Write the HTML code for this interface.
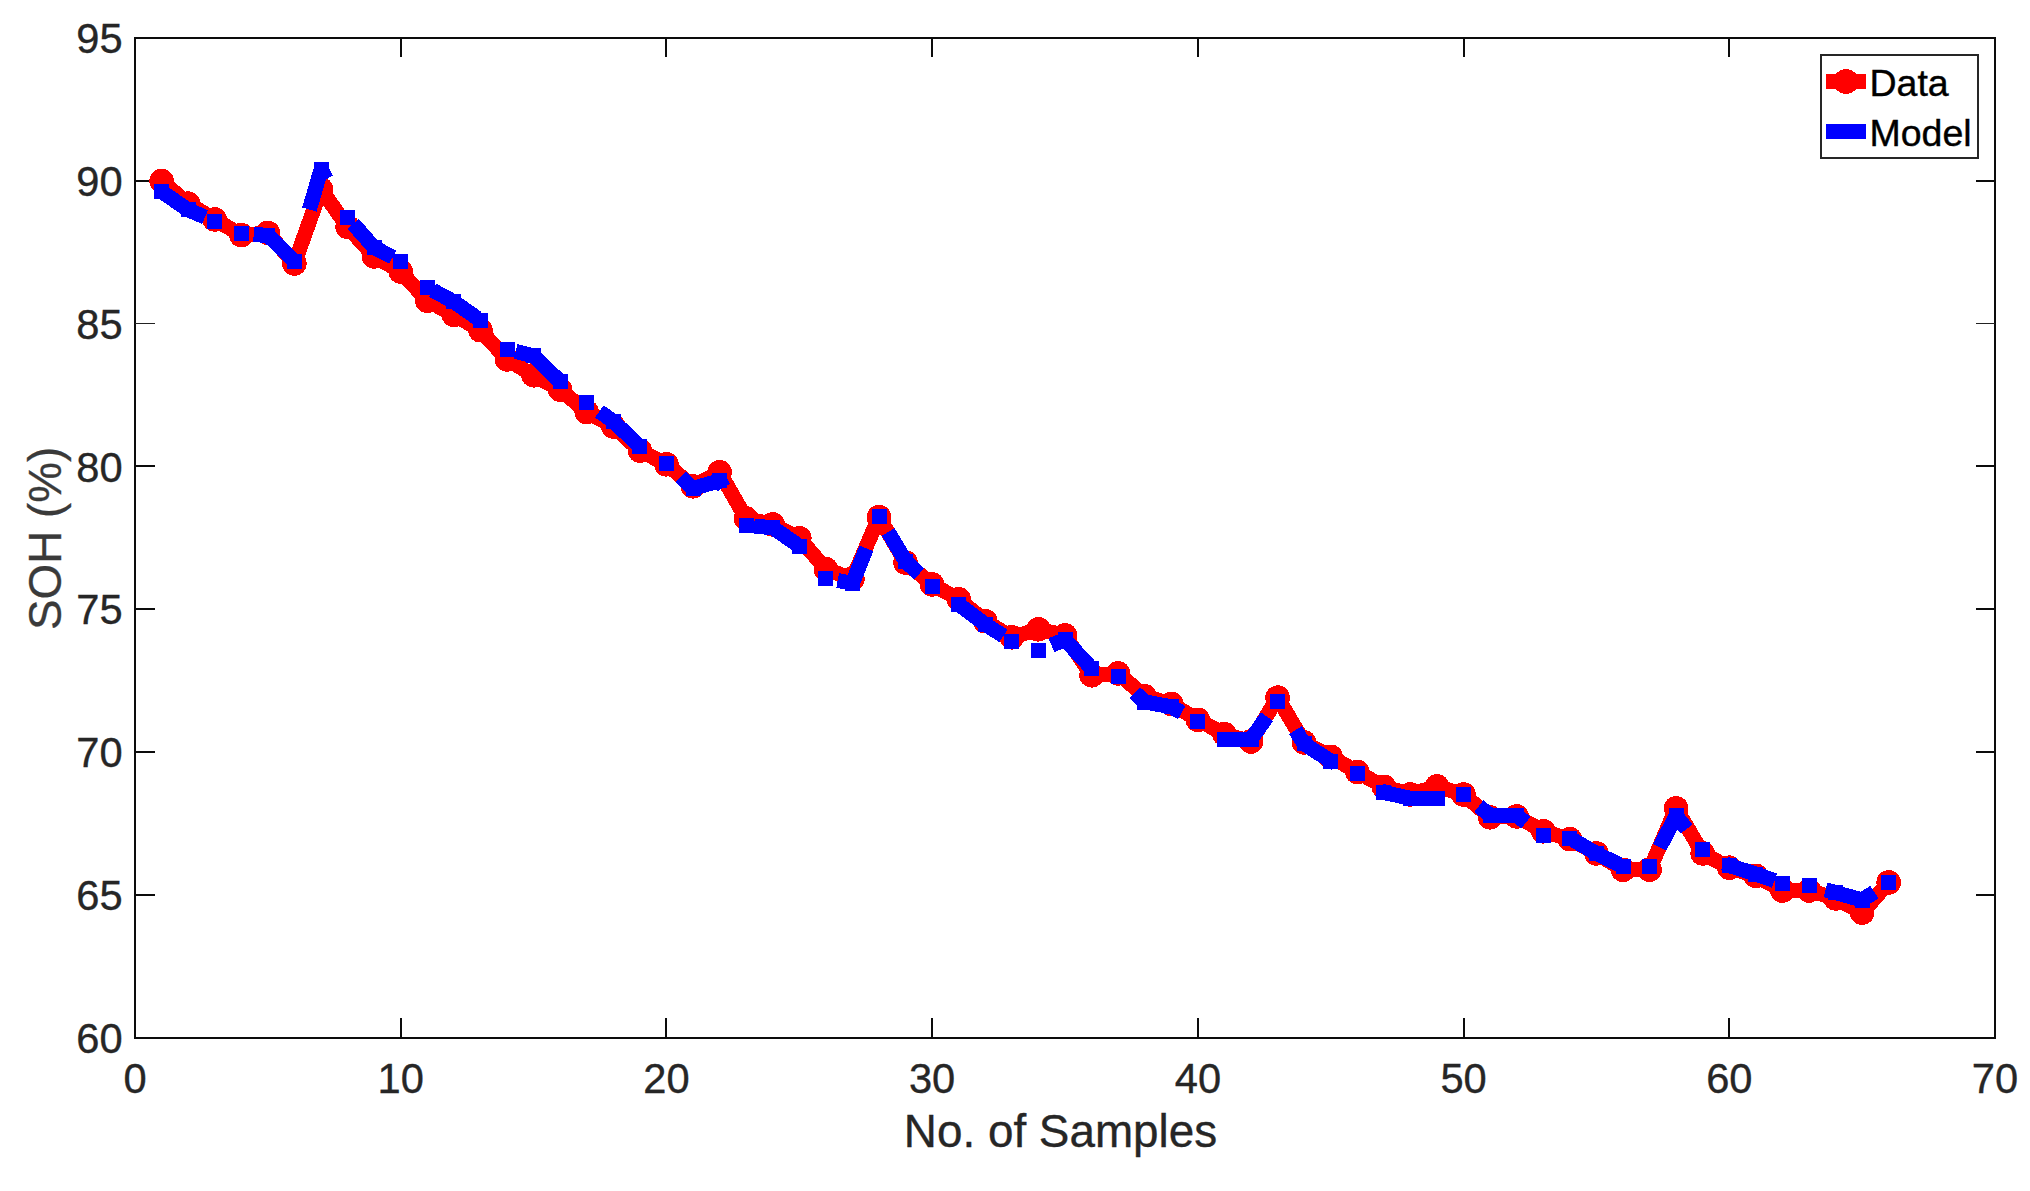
<!DOCTYPE html>
<html lang="en"><head><meta charset="utf-8"><title>SOH vs No. of Samples</title>
<style>html,body{margin:0;padding:0;background:#fff}body{width:2030px;height:1191px;overflow:hidden}svg{display:block}text{font-family:"Liberation Sans",Arial,Helvetica,sans-serif}</style></head><body>
<svg width="2030" height="1191" viewBox="0 0 2030 1191">
<rect width="2030" height="1191" fill="#fff"/>
<g shape-rendering="crispEdges">
<rect x="135.0" y="38.0" width="1860.0" height="1000.0" fill="none" stroke="#0c0c0c" stroke-width="2"/>
<rect x="400" y="1018" width="2" height="20" fill="#0c0c0c"/><rect x="400" y="38" width="2" height="19" fill="#0c0c0c"/>
<rect x="665" y="1018" width="2" height="20" fill="#0c0c0c"/><rect x="665" y="38" width="2" height="19" fill="#0c0c0c"/>
<rect x="931" y="1018" width="2" height="20" fill="#0c0c0c"/><rect x="931" y="38" width="2" height="19" fill="#0c0c0c"/>
<rect x="1197" y="1018" width="2" height="20" fill="#0c0c0c"/><rect x="1197" y="38" width="2" height="19" fill="#0c0c0c"/>
<rect x="1463" y="1018" width="2" height="20" fill="#0c0c0c"/><rect x="1463" y="38" width="2" height="19" fill="#0c0c0c"/>
<rect x="1728" y="1018" width="2" height="20" fill="#0c0c0c"/><rect x="1728" y="38" width="2" height="19" fill="#0c0c0c"/>
<rect x="135" y="180" width="20" height="2" fill="#0c0c0c"/><rect x="1976" y="180" width="19" height="2" fill="#0c0c0c"/>
<rect x="135" y="323" width="20" height="1" fill="#222"/><rect x="1976" y="323" width="19" height="1" fill="#222"/>
<rect x="135" y="465" width="20" height="2" fill="#0c0c0c"/><rect x="1976" y="465" width="19" height="2" fill="#0c0c0c"/>
<rect x="135" y="608" width="20" height="2" fill="#0c0c0c"/><rect x="1976" y="608" width="19" height="2" fill="#0c0c0c"/>
<rect x="135" y="751" width="20" height="2" fill="#0c0c0c"/><rect x="1976" y="751" width="19" height="2" fill="#0c0c0c"/>
<rect x="135" y="894" width="20" height="2" fill="#0c0c0c"/><rect x="1976" y="894" width="19" height="2" fill="#0c0c0c"/>
</g>
<g shape-rendering="crispEdges">
<polyline points="161.6,181.1 188.1,203.6 214.7,219.4 241.3,235.1 267.9,233.0 294.4,263.5 321.0,189.3 347.6,226.9 374.1,256.4 400.7,271.5 427.3,300.7 453.9,314.8 480.4,330.2 507.0,359.4 533.6,375.3 560.1,389.6 586.7,412.0 613.3,426.4 639.9,450.6 666.4,464.3 693.0,486.3 719.6,472.2 746.1,518.5 772.7,524.4 799.3,538.3 825.9,569.2 852.4,578.7 879.0,517.2 905.6,562.6 932.1,584.4 958.7,599.2 985.3,621.2 1011.9,637.3 1038.4,629.3 1065.0,635.3 1091.6,675.3 1118.1,673.4 1144.7,696.3 1171.3,703.9 1197.9,719.8 1224.4,734.1 1251.0,741.5 1277.6,697.6 1304.1,742.4 1330.7,756.8 1357.3,772.0 1383.9,786.8 1410.4,794.4 1437.0,786.3 1463.6,794.5 1490.1,817.3 1516.7,816.4 1543.3,831.3 1569.9,839.2 1596.4,853.4 1623.0,869.8 1649.6,869.7 1676.1,808.3 1702.7,853.4 1729.3,867.7 1755.9,875.9 1782.4,890.6 1809.0,890.5 1835.6,898.4 1862.1,912.7 1888.7,882.4" fill="none" stroke="#f00" stroke-width="15.0" stroke-linejoin="round" stroke-linecap="butt"/>
<g fill="#f00"><circle cx="161.6" cy="181.1" r="12.3"/><circle cx="188.1" cy="203.6" r="12.3"/><circle cx="214.7" cy="219.4" r="12.3"/><circle cx="241.3" cy="235.1" r="12.3"/><circle cx="267.9" cy="233.0" r="12.3"/><circle cx="294.4" cy="263.5" r="12.3"/><circle cx="321.0" cy="189.3" r="12.3"/><circle cx="347.6" cy="226.9" r="12.3"/><circle cx="374.1" cy="256.4" r="12.3"/><circle cx="400.7" cy="271.5" r="12.3"/><circle cx="427.3" cy="300.7" r="12.3"/><circle cx="453.9" cy="314.8" r="12.3"/><circle cx="480.4" cy="330.2" r="12.3"/><circle cx="507.0" cy="359.4" r="12.3"/><circle cx="533.6" cy="375.3" r="12.3"/><circle cx="560.1" cy="389.6" r="12.3"/><circle cx="586.7" cy="412.0" r="12.3"/><circle cx="613.3" cy="426.4" r="12.3"/><circle cx="639.9" cy="450.6" r="12.3"/><circle cx="666.4" cy="464.3" r="12.3"/><circle cx="693.0" cy="486.3" r="12.3"/><circle cx="719.6" cy="472.2" r="12.3"/><circle cx="746.1" cy="518.5" r="12.3"/><circle cx="772.7" cy="524.4" r="12.3"/><circle cx="799.3" cy="538.3" r="12.3"/><circle cx="825.9" cy="569.2" r="12.3"/><circle cx="852.4" cy="578.7" r="12.3"/><circle cx="879.0" cy="517.2" r="12.3"/><circle cx="905.6" cy="562.6" r="12.3"/><circle cx="932.1" cy="584.4" r="12.3"/><circle cx="958.7" cy="599.2" r="12.3"/><circle cx="985.3" cy="621.2" r="12.3"/><circle cx="1011.9" cy="637.3" r="12.3"/><circle cx="1038.4" cy="629.3" r="12.3"/><circle cx="1065.0" cy="635.3" r="12.3"/><circle cx="1091.6" cy="675.3" r="12.3"/><circle cx="1118.1" cy="673.4" r="12.3"/><circle cx="1144.7" cy="696.3" r="12.3"/><circle cx="1171.3" cy="703.9" r="12.3"/><circle cx="1197.9" cy="719.8" r="12.3"/><circle cx="1224.4" cy="734.1" r="12.3"/><circle cx="1251.0" cy="741.5" r="12.3"/><circle cx="1277.6" cy="697.6" r="12.3"/><circle cx="1304.1" cy="742.4" r="12.3"/><circle cx="1330.7" cy="756.8" r="12.3"/><circle cx="1357.3" cy="772.0" r="12.3"/><circle cx="1383.9" cy="786.8" r="12.3"/><circle cx="1410.4" cy="794.4" r="12.3"/><circle cx="1437.0" cy="786.3" r="12.3"/><circle cx="1463.6" cy="794.5" r="12.3"/><circle cx="1490.1" cy="817.3" r="12.3"/><circle cx="1516.7" cy="816.4" r="12.3"/><circle cx="1543.3" cy="831.3" r="12.3"/><circle cx="1569.9" cy="839.2" r="12.3"/><circle cx="1596.4" cy="853.4" r="12.3"/><circle cx="1623.0" cy="869.8" r="12.3"/><circle cx="1649.6" cy="869.7" r="12.3"/><circle cx="1676.1" cy="808.3" r="12.3"/><circle cx="1702.7" cy="853.4" r="12.3"/><circle cx="1729.3" cy="867.7" r="12.3"/><circle cx="1755.9" cy="875.9" r="12.3"/><circle cx="1782.4" cy="890.6" r="12.3"/><circle cx="1809.0" cy="890.5" r="12.3"/><circle cx="1835.6" cy="898.4" r="12.3"/><circle cx="1862.1" cy="912.7" r="12.3"/><circle cx="1888.7" cy="882.4" r="12.3"/></g>
<polyline points="161.6,191.6 188.1,209.9 214.7,221.2 241.3,233.3 267.9,235.4 294.4,261.1 321.0,169.6 347.6,217.6 374.1,247.5 400.7,261.4 427.3,287.4 453.9,301.7 480.4,320.4 507.0,349.3 533.6,355.8 560.1,381.5 586.7,402.4 613.3,421.3 639.9,446.5 666.4,463.4 693.0,488.4 719.6,480.7 746.1,525.6 772.7,527.6 799.3,546.1 825.9,578.4 852.4,583.2 879.0,516.5 905.6,561.3 932.1,586.3 958.7,604.5 985.3,624.3 1011.9,641.4 1038.4,650.5 1065.0,639.7 1091.6,668.4 1118.1,676.4 1144.7,702.0 1171.3,706.8 1197.9,721.6 1224.4,739.4 1251.0,739.4 1277.6,701.5 1304.1,743.9 1330.7,761.0 1357.3,773.5 1383.9,792.5 1410.4,798.3 1437.0,798.4 1463.6,794.7 1490.1,815.0 1516.7,815.5 1543.3,835.7 1569.9,838.0 1596.4,853.5 1623.0,866.4 1649.6,866.5 1676.1,815.7 1702.7,849.5 1729.3,865.6 1755.9,874.0 1782.4,883.5 1809.0,885.4 1835.6,892.5 1862.1,900.0 1888.7,882.7" fill="none" stroke="#00f" stroke-width="15.0" stroke-linejoin="round" stroke-linecap="butt" stroke-dasharray="52.6 52.2" stroke-dashoffset="2.0"/>
<g fill="#00f"><rect x="154.1" y="184.1" width="15.0" height="15.0"/><rect x="180.6" y="202.4" width="15.0" height="15.0"/><rect x="207.2" y="213.7" width="15.0" height="15.0"/><rect x="233.8" y="225.8" width="15.0" height="15.0"/><rect x="260.4" y="227.9" width="15.0" height="15.0"/><rect x="286.9" y="253.6" width="15.0" height="15.0"/><rect x="313.5" y="162.1" width="15.0" height="15.0"/><rect x="340.1" y="210.1" width="15.0" height="15.0"/><rect x="366.6" y="240.0" width="15.0" height="15.0"/><rect x="393.2" y="253.9" width="15.0" height="15.0"/><rect x="419.8" y="279.9" width="15.0" height="15.0"/><rect x="446.4" y="294.2" width="15.0" height="15.0"/><rect x="472.9" y="312.9" width="15.0" height="15.0"/><rect x="499.5" y="341.8" width="15.0" height="15.0"/><rect x="526.1" y="348.3" width="15.0" height="15.0"/><rect x="552.6" y="374.0" width="15.0" height="15.0"/><rect x="579.2" y="394.9" width="15.0" height="15.0"/><rect x="605.8" y="413.8" width="15.0" height="15.0"/><rect x="632.4" y="439.0" width="15.0" height="15.0"/><rect x="658.9" y="455.9" width="15.0" height="15.0"/><rect x="685.5" y="480.9" width="15.0" height="15.0"/><rect x="712.1" y="473.2" width="15.0" height="15.0"/><rect x="738.6" y="518.1" width="15.0" height="15.0"/><rect x="765.2" y="520.1" width="15.0" height="15.0"/><rect x="791.8" y="538.6" width="15.0" height="15.0"/><rect x="818.4" y="570.9" width="15.0" height="15.0"/><rect x="844.9" y="575.7" width="15.0" height="15.0"/><rect x="871.5" y="509.0" width="15.0" height="15.0"/><rect x="898.1" y="553.8" width="15.0" height="15.0"/><rect x="924.6" y="578.8" width="15.0" height="15.0"/><rect x="951.2" y="597.0" width="15.0" height="15.0"/><rect x="977.8" y="616.8" width="15.0" height="15.0"/><rect x="1004.4" y="633.9" width="15.0" height="15.0"/><rect x="1030.9" y="643.0" width="15.0" height="15.0"/><rect x="1057.5" y="632.2" width="15.0" height="15.0"/><rect x="1084.1" y="660.9" width="15.0" height="15.0"/><rect x="1110.6" y="668.9" width="15.0" height="15.0"/><rect x="1137.2" y="694.5" width="15.0" height="15.0"/><rect x="1163.8" y="699.3" width="15.0" height="15.0"/><rect x="1190.4" y="714.1" width="15.0" height="15.0"/><rect x="1216.9" y="731.9" width="15.0" height="15.0"/><rect x="1243.5" y="731.9" width="15.0" height="15.0"/><rect x="1270.1" y="694.0" width="15.0" height="15.0"/><rect x="1296.6" y="736.4" width="15.0" height="15.0"/><rect x="1323.2" y="753.5" width="15.0" height="15.0"/><rect x="1349.8" y="766.0" width="15.0" height="15.0"/><rect x="1376.4" y="785.0" width="15.0" height="15.0"/><rect x="1402.9" y="790.8" width="15.0" height="15.0"/><rect x="1429.5" y="790.9" width="15.0" height="15.0"/><rect x="1456.1" y="787.2" width="15.0" height="15.0"/><rect x="1482.6" y="807.5" width="15.0" height="15.0"/><rect x="1509.2" y="808.0" width="15.0" height="15.0"/><rect x="1535.8" y="828.2" width="15.0" height="15.0"/><rect x="1562.4" y="830.5" width="15.0" height="15.0"/><rect x="1588.9" y="846.0" width="15.0" height="15.0"/><rect x="1615.5" y="858.9" width="15.0" height="15.0"/><rect x="1642.1" y="859.0" width="15.0" height="15.0"/><rect x="1668.6" y="808.2" width="15.0" height="15.0"/><rect x="1695.2" y="842.0" width="15.0" height="15.0"/><rect x="1721.8" y="858.1" width="15.0" height="15.0"/><rect x="1748.4" y="866.5" width="15.0" height="15.0"/><rect x="1774.9" y="876.0" width="15.0" height="15.0"/><rect x="1801.5" y="877.9" width="15.0" height="15.0"/><rect x="1828.1" y="885.0" width="15.0" height="15.0"/><rect x="1854.6" y="892.5" width="15.0" height="15.0"/><rect x="1881.2" y="875.2" width="15.0" height="15.0"/></g>
</g>
<g fill="#262626" stroke="#262626" stroke-width="0.35" font-size="41.67px">
<text x="135.0" y="1093" text-anchor="middle">0</text>
<text x="400.7" y="1093" text-anchor="middle">10</text>
<text x="666.4" y="1093" text-anchor="middle">20</text>
<text x="932.1" y="1093" text-anchor="middle">30</text>
<text x="1197.9" y="1093" text-anchor="middle">40</text>
<text x="1463.6" y="1093" text-anchor="middle">50</text>
<text x="1729.3" y="1093" text-anchor="middle">60</text>
<text x="1995.0" y="1093" text-anchor="middle">70</text>
<text x="122.6" y="1052.9" text-anchor="end">60</text>
<text x="122.6" y="910.0" text-anchor="end">65</text>
<text x="122.6" y="767.2" text-anchor="end">70</text>
<text x="122.6" y="624.3" text-anchor="end">75</text>
<text x="122.6" y="481.5" text-anchor="end">80</text>
<text x="122.6" y="338.6" text-anchor="end">85</text>
<text x="122.6" y="195.8" text-anchor="end">90</text>
<text x="122.6" y="52.9" text-anchor="end">95</text>
</g>
<text x="1060.5" y="1146.7" text-anchor="middle" font-size="45.83px" fill="#262626" stroke="#262626" stroke-width="0.35">No. of Samples</text>
<text transform="translate(61 538.3) rotate(-90)" text-anchor="middle" font-size="45.83px" fill="#3a3a3a" stroke="#3a3a3a" stroke-width="0.3">SOH (%)</text>
<g shape-rendering="crispEdges"><rect x="1821" y="55" width="157" height="103" fill="#fff" stroke="#262626" stroke-width="2"/>
<rect x="1826" y="74" width="40" height="15" fill="#f00"/><rect x="1826" y="124" width="40" height="15" fill="#00f"/></g>
<circle cx="1846" cy="81.5" r="12.5" fill="#f00" shape-rendering="crispEdges"/>
<text x="1869.5" y="95.7" font-size="37.5px" fill="#000" stroke="#000" stroke-width="0.4">Data</text>
<text x="1869.5" y="145.6" font-size="37.5px" fill="#000" stroke="#000" stroke-width="0.4">Model</text>
</svg></body></html>
